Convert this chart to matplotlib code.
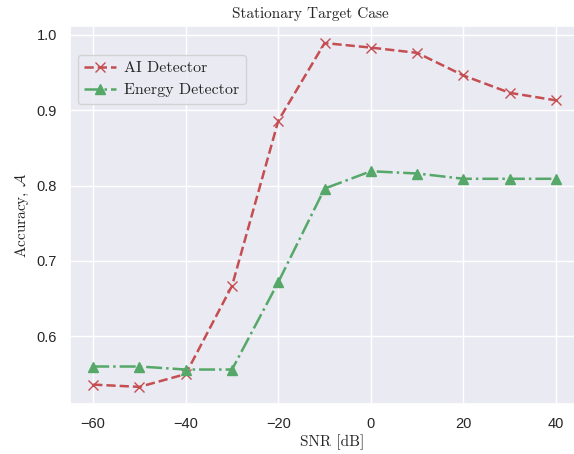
import numpy as np
import matplotlib.pyplot as plt
import seaborn as sns

sns.set_theme(style='darkgrid', color_codes=True)
plt.rcParams['font.family'] = ['Liberation Sans', 'DejaVu Sans']
plt.rcParams['mathtext.fontset'] = 'cm'

# SNR points and accuracies
snr = [-60, -50, -40, -30, -20, -10, 0, 10, 20, 30, 40]
acc_ai = [0.536, 0.533, 0.550, 0.667, 0.886, 0.989, 0.983, 0.976, 0.946, 0.923, 0.913]
acc_energy = [0.560, 0.560, 0.556, 0.556, 0.672, 0.796, 0.819, 0.816, 0.809, 0.809, 0.809]

fig = plt.figure(figsize=(5.74, 4.54), dpi=100)
ax = fig.add_axes([0.122, 0.110, 0.887, 0.833])

ax.plot(snr, acc_ai, 'r--x', label='AI Detector', markersize=7, linewidth=1.8)
ax.plot(snr, acc_energy, 'g-.^', label='Energy Detector', markersize=7, linewidth=1.8)

ax.set_title('Stationary Target Case', fontfamily='cmr10', fontsize=11, x=0.4715)
ax.set_xlabel('SNR [dB]', fontfamily='cmr10', fontsize=11, labelpad=2, x=0.514)
ax.set_ylabel(r'Accuracy, $\mathcal{A}$', fontfamily='cmr10', fontsize=11)
ax.tick_params(labelsize=10.5)

ax.legend(loc='upper left', prop={'family': 'cmr10', 'size': 11.5},
          bbox_to_anchor=(0.0, 0.945), handlelength=2.0, handletextpad=0.5)

plt.savefig('out.png')
